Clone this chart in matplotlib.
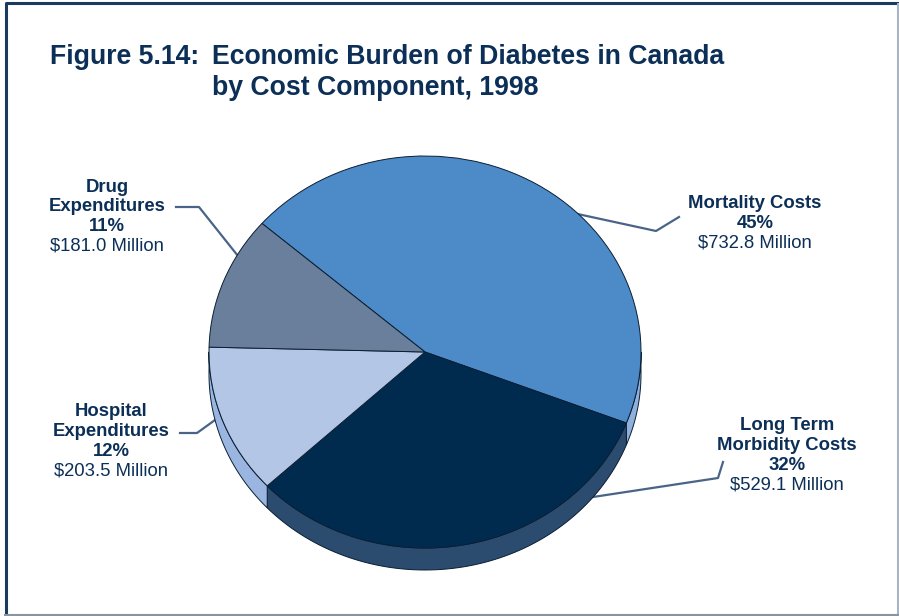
import matplotlib.pyplot as plt
from matplotlib.patches import Polygon
import numpy as np

# cost components, millions of dollars (1998)
components = ['Mortality Costs', 'Long Term\nMorbidity Costs', 'Hospital\nExpenditures', 'Drug\nExpenditures']
costs = [732.8, 529.1, 203.5, 181.0]
percents = ['45%', '32%', '12%', '11%']
amounts = ['$732.8 Million', '$529.1 Million', '$203.5 Million', '$181.0 Million']

top_colors = ['#4d8ac8', '#002b4f', '#b3c6e6', '#6a7f9b']
side_colors = ['#8fb0dc', '#2b4b6f', '#9ab6e0', '#5a6f8b']
navy = '#0b2f57'
leader = '#4a6488'

W, H = 899, 616
fig = plt.figure(figsize=(W / 100, H / 100), dpi=100)

# background axes in pixel coords (y down) for frame, title, labels
bg = fig.add_axes([0, 0, 1, 1])
bg.set_xlim(0, W)
bg.set_ylim(H, 0)
bg.axis('off')

bg.plot([5.5, 5.5, W], [H, 2.5, 2.5], color='#1a3a60', lw=2.2, solid_capstyle='butt')
bg.plot([W - 1.5, W - 1.5], [4, H], color='#aab4c0', lw=1.5)
bg.plot([5, W], [H - 1.5, H - 1.5], color='#8a949e', lw=1.5)

tfont = ['Liberation Sans Narrow', 'Liberation Sans', 'DejaVu Sans']
bg.text(50, 64, 'Figure 5.14:', fontsize=19.2, fontweight='bold', color=navy,
        family=tfont, va='baseline')
bg.text(212, 64, 'Economic Burden of Diabetes in Canada', fontsize=19.2,
        fontweight='bold', color=navy, family=tfont, va='baseline')
bg.text(212, 95, 'by Cost Component, 1998', fontsize=19.2, fontweight='bold',
        color=navy, family=tfont, va='baseline')

# pie axes: ellipse centre (425,352) px, rx=216, ry=196
cx, cy, rx, ry = 425, 352, 216, 196
pax = fig.add_axes([(cx - 1.25 * rx) / W, (H - cy - 1.25 * ry) / H,
                    2.5 * rx / W, 2.5 * ry / H])
wedges, _ = pax.pie(costs, colors=top_colors, startangle=139, counterclock=False,
                    wedgeprops=dict(edgecolor='#0a1e33', linewidth=0.7, zorder=3))
pax.set_aspect('auto')
pax.set_xlim(-1.25, 1.25)
pax.set_ylim(-1.25, 1.25)
pax.axis('off')

depth = 22 / ry
for w, sc in zip(wedges, side_colors):
    t1, t2 = w.theta1, w.theta2
    for lo, hi in [(-180, 0), (180, 360)]:
        a, b = max(t1, lo), min(t2, hi)
        if b <= a:
            continue
        t = np.radians(np.linspace(a, b, 80))
        xs = np.concatenate([np.cos(t), np.cos(t[::-1])])
        ys = np.concatenate([np.sin(t), np.sin(t[::-1]) - depth])
        pax.add_patch(Polygon(np.column_stack([xs, ys]), closed=True, facecolor=sc,
                              edgecolor='#0a1e33', linewidth=0.7, zorder=2))

# labels: (centre x, first line y) in px
label_pos = [(755, 204), (787, 426), (111, 412), (107, 187)]
lfont = ['Liberation Sans', 'DejaVu Sans']
step = 19.7
for name, pct, amt, (lx, ly) in zip(components, percents, amounts, label_pos):
    lines = name.split('\n') + [pct]
    for i, s in enumerate(lines):
        bg.text(lx, ly + i * step, s, fontsize=13.3, fontweight='bold', color=navy,
                family=lfont, ha='center', va='center')
    bg.text(lx, ly + len(lines) * step, amt, fontsize=13.3, color=navy,
            family=lfont, ha='center', va='center')

# leader lines
leaders = [
    ([573, 656, 679], [213, 231, 217]),
    ([593, 718, 723], [497, 478, 462]),
    ([180, 197, 215], [433, 433, 420]),
    ([176, 199, 238], [207, 207, 256]),
]
for xs, ys in leaders:
    bg.plot(xs, ys, color=leader, lw=1.6, zorder=1)

fig.savefig('out.png', dpi=100)
